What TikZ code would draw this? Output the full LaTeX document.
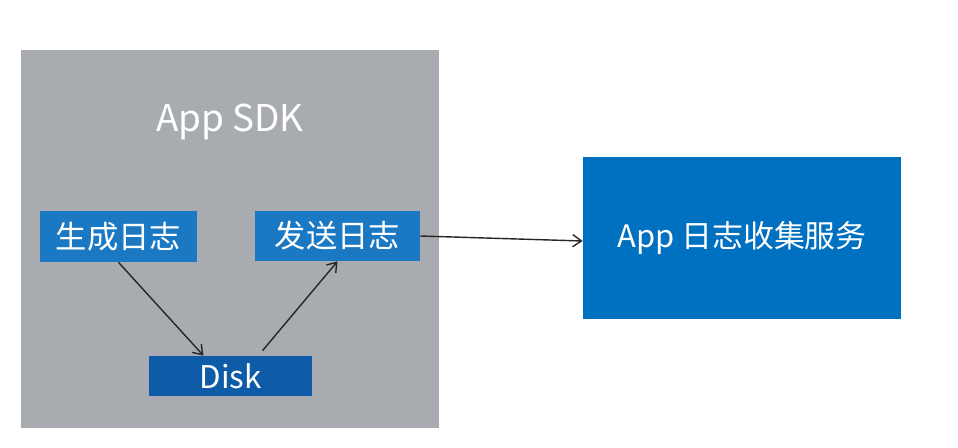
\documentclass[tikz,border=0pt]{standalone}
\usepackage{fontspec}
\setmainfont{Noto Sans CJK SC}
\usetikzlibrary{arrows.meta, positioning}
\definecolor{sdkgray}{HTML}{A8ABAF}
\definecolor{stepblue}{HTML}{1B79C3}
\definecolor{diskblue}{HTML}{0E5CA7}
\definecolor{svcblue}{HTML}{0070C0}
\tikzset{
    stepbox/.style={
        rectangle, fill=stepblue, text=white, inner sep=0pt, minimum height=1.02cm, font=\fontsize{17.8}{20}\selectfont
    },
    arrow/.style={
        ->, >={Straight Barb[length=5pt, width=7pt]}, line width=0.8pt, black!85
    }
}

\begin{document}
\begin{tikzpicture}[x=0.02cm, y=-0.02cm]

    \useasboundingbox (0,0) rectangle (958,447);

    % SDK container
    \node[rectangle, fill=sdkgray, minimum width=8.36cm, minimum height=7.56cm, inner sep=0pt] (sdk) at (230,239) {};
    \node[text=white, font=\fontsize{21}{24}\selectfont] (title) at (230,122) {App SDK};

    % Steps inside the SDK
    \node[stepbox, minimum width=3.14cm] (gen) at (118.5,236.5) {生成日志};
    \node[stepbox, minimum width=3.3cm, minimum height=1cm] (send) at (337.5,236) {发送日志};
    \node[stepbox, fill=diskblue, minimum width=3.26cm, minimum height=0.8cm] (disk) at (230.5,376) {Disk};

    % Collection service
    \node[rectangle, fill=svcblue, text=white, minimum width=6.36cm, minimum height=3.24cm, inner sep=0pt, font=\fontsize{17.6}{20}\selectfont] (svc) at (742,238) {App 日志收集服务};

    % Flow
    \draw[arrow] (gen.south) -- ([xshift=-0.54cm]disk.north);
    \draw[arrow] ([xshift=0.64cm, yshift=0.1cm]disk.north) -- (send.south);
    \draw[arrow] (send.east) -- ([yshift=-0.06cm]svc.west);

\end{tikzpicture}
\end{document}
